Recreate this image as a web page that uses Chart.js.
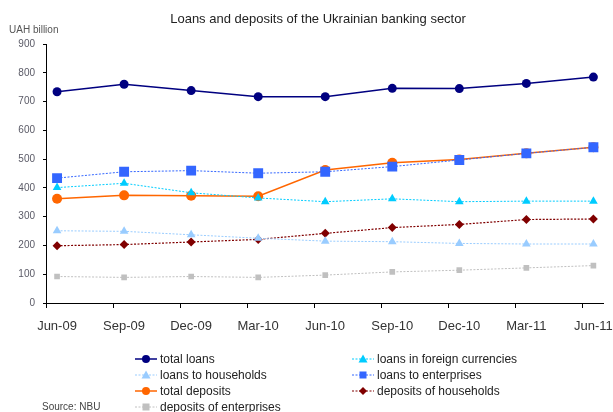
<!DOCTYPE html>
<html>
<head>
<meta charset="utf-8">
<script src="https://cdn.jsdelivr.net/npm/chart.js@4.4.1/dist/chart.umd.min.js"></script>
<style>
  body { margin: 0; background: #fff; font-family: "Liberation Sans", Arial, sans-serif; }
  #wrap { position: relative; width: 613px; height: 412px; overflow: hidden; }
  #chart { position: absolute; left: 0; top: 0; }
  .title { position: absolute; top: 11px; left: 0; width: 636px; text-align: center; font-size: 13px; color: #222; }
  .unit { position: absolute; top: 24px; left: 9px; font-size: 10px; color: #555; }
  .source { position: absolute; top: 401px; left: 42px; font-size: 10px; color: #444; }
  #legend { position: absolute; left: 135px; top: 351px; display: grid; grid-template-columns: 217px 220px; row-gap: 0.5px; }
  #legend .item { display: flex; align-items: center; height: 15.5px; font-size: 12px; color: #222; }
  #legend svg { margin-right: 3px; }
</style>
</head>
<body>
<div id="wrap">
  <canvas id="chart" width="613" height="412"></canvas>
  <div class="title">Loans and deposits of the Ukrainian banking sector</div>
  <div class="unit">UAH billion</div>
  <div id="legend"></div>
  <div class="source">Source: NBU</div>
</div>
<script>
const categories = ["Jun-09", "Sep-09", "Dec-09", "Mar-10", "Jun-10", "Sep-10", "Dec-10", "Mar-11", "Jun-11"];
const totalLoans = [734, 760, 738, 717, 717, 746, 745, 763, 785];
const loansForeign = [401, 416, 383, 365, 352, 362, 352, 354, 354];
const loansHouseholds = [251, 249, 237, 225, 215, 213, 207, 205, 205];
const loansEnterprises = [434, 456, 460, 451, 456, 474, 497, 520, 541];
const totalDeposits = [362, 374, 373, 371, 462, 487, 499, 520, 541];
const depositsHouseholds = [199, 203, 212, 221, 242, 262, 273, 290, 292];
const depositsEnterprises = [92, 89, 92, 89, 97, 108, 114, 122, 130];
const yTicks = [0, 100, 200, 300, 400, 500, 600, 700, 800, 900];

// the x axis starts a bit before the first quarter; tick marks sit on the period boundaries
const xStart = -0.165;
const xEnd = 8.15;

function series(label, values, color, pointStyle, radius, dash, width) {
  return {
    label: label,
    data: values.map((v, i) => ({ x: i, y: v })),
    borderColor: color,
    backgroundColor: color,
    borderWidth: width,
    borderDash: dash,
    pointStyle: pointStyle,
    pointRadius: radius,
    pointBorderWidth: 0,
    pointBackgroundColor: color,
    tension: 0
  };
}

const datasets = [
  series("total loans", totalLoans, "#000080", "circle", 4.5, [], 1.5),
  series("loans in foreign currencies", loansForeign, "#00ccff", "triangle", 5, [2, 1.5], 1),
  series("loans to households", loansHouseholds, "#99ccff", "triangle", 5, [2, 1.5], 1),
  series("loans to enterprises", loansEnterprises, "#3366ff", "rect", 7, [2, 1.5], 1),
  series("total deposits", totalDeposits, "#ff6600", "circle", 5, [], 1.5),
  series("deposits of households", depositsHouseholds, "#800000", "rectRot", 4.5, [2, 1.5], 1.2),
  series("deposits of enterprises", depositsEnterprises, "#c0c0c0", "rect", 4, [2, 1.5], 1)
];

new Chart(document.getElementById("chart"), {
  type: "line",
  data: { datasets: datasets },
  options: {
    responsive: false,
    animation: false,
    layout: { padding: { left: 0, top: 44, right: 7, bottom: 79 } },
    plugins: { legend: { display: false }, tooltip: { enabled: false } },
    scales: {
      x: {
        type: "linear",
        min: xStart,
        max: xEnd,
        afterBuildTicks: axis => { axis.ticks = categories.map((c, i) => ({ value: xStart + i })); },
        afterFit: axis => { axis.height = 30; },
        ticks: {
          callback: (v, i) => categories[i],
          labelOffset: 11,
          maxRotation: 0,
          autoSkip: false,
          padding: 11,
          color: "#333",
          font: { family: "Liberation Sans", size: 13 }
        },
        grid: { drawOnChartArea: false, tickLength: 5, color: "#000" },
        border: { color: "#000", width: 1 }
      },
      y: {
        min: 0,
        max: 900,
        afterBuildTicks: axis => { axis.ticks = yTicks.map(v => ({ value: v })); },
        afterFit: axis => { axis.width = 46; },
        ticks: { padding: 8, color: "#5a5a66", font: { family: "Liberation Sans", size: 10 } },
        grid: { drawOnChartArea: false, tickLength: 3, color: "#000" },
        border: { color: "#000", width: 1 }
      }
    }
  }
});

// two-column legend built from the dataset styles
function markerSvg(ds) {
  const c = ds.borderColor;
  let m = "";
  if (ds.pointStyle === "circle") m = `<circle cx="11" cy="6" r="4" fill="${c}"/>`;
  else if (ds.pointStyle === "triangle") m = `<polygon points="11,1.5 15.5,9.5 6.5,9.5" fill="${c}"/>`;
  else if (ds.pointStyle === "rect") m = `<rect x="7.5" y="2.5" width="7" height="7" fill="${c}"/>`;
  else if (ds.pointStyle === "rectRot") m = `<polygon points="11,2 15,6 11,10 7,6" fill="${c}"/>`;
  const dash = ds.borderDash.length ? `stroke-dasharray="${ds.borderDash.join(" ")}"` : "";
  return `<svg width="22" height="12"><line x1="0" y1="6" x2="22" y2="6" stroke="${c}" stroke-width="${ds.borderWidth}" ${dash}/>${m}</svg>`;
}

const legend = document.getElementById("legend");
datasets.forEach(ds => {
  const item = document.createElement("div");
  item.className = "item";
  item.innerHTML = markerSvg(ds) + `<span>${ds.label}</span>`;
  legend.appendChild(item);
});
</script>
</body>
</html>
